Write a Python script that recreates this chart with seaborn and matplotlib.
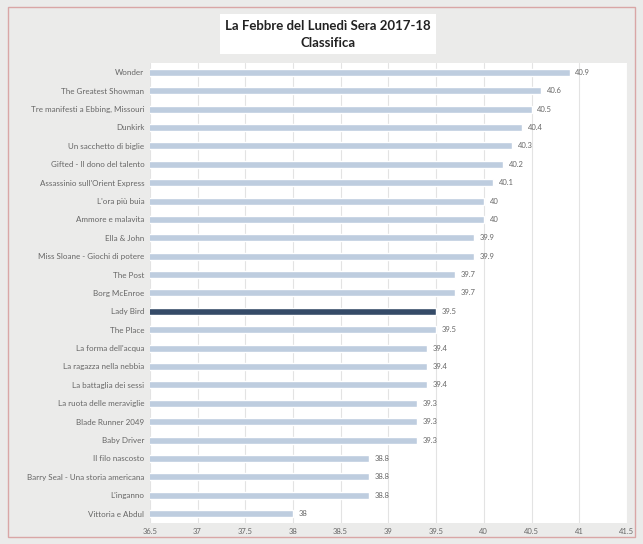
import pandas as pd
import matplotlib.pyplot as plt
import seaborn as sns
from matplotlib.patches import Rectangle

# --- Classifica data ---
films = [
    "Wonder", "The Greatest Showman", "Tre manifesti a Ebbing, Missouri", "Dunkirk",
    "Un sacchetto di biglie", "Gifted - Il dono del talento", "Assassinio sull'Orient Express",
    "L'ora più buia", "Ammore e malavita", "Ella & John", "Miss Sloane - Giochi di potere",
    "The Post", "Borg McEnroe", "Lady Bird", "The Place", "La forma dell'acqua",
    "La ragazza nella nebbia", "La battaglia dei sessi", "La ruota delle meraviglie",
    "Blade Runner 2049", "Baby Driver", "Il filo nascosto",
    "Barry Seal - Una storia americana", "L'inganno", "Vittoria e Abdul",
]
scores = [40.9, 40.6, 40.5, 40.4, 40.3, 40.2, 40.1, 40, 40, 39.9, 39.9, 39.7, 39.7,
          39.5, 39.5, 39.4, 39.4, 39.4, 39.3, 39.3, 39.3, 38.8, 38.8, 38.8, 38]
highlight = "Lady Bird"
x_ticks = [36.5, 37, 37.5, 38, 38.5, 39, 39.5, 40, 40.5, 41, 41.5]

df = pd.DataFrame({"Film": films, "Voto": scores})
df["Gruppo"] = ["hi" if f == highlight else "lo" for f in films]

sns.set_style("white")
plt.rcParams["font.family"] = ["Lato", "DejaVu Sans"]

fig = plt.figure(figsize=(6.43, 5.44), dpi=100)
fig.patch.set_facecolor("#ebebea")
ax = fig.add_axes([0.233, 0.039, 0.742, 0.845])
ax.set_facecolor("white")

sns.barplot(data=df, x="Voto", y="Film", hue="Gruppo", orient="h", dodge=False,
            palette={"lo": "#b9cce4", "hi": "#2c4a70"}, width=0.38, legend=False, ax=ax)

ax.set_xlim(36.5, 41.5)
ax.set_xticks(x_ticks)
ax.set_xticklabels([f"{t:g}" for t in x_ticks], fontsize=5.5, color="#666666")
ax.tick_params(axis="y", labelsize=5.8, labelcolor="#666666", length=0, pad=4)
ax.tick_params(axis="x", length=0, pad=4)
ax.grid(axis="x", color="#e3e3e3", linewidth=0.8)
ax.set_axisbelow(True)
for s in ax.spines.values():
    s.set_visible(False)
ax.set_xlabel("")
ax.set_ylabel("")

for i, v in enumerate(scores):
    ax.text(v + 0.06, i, f"{v:g}", va="center", ha="left", fontsize=5.5, color="#666666")

fig.text(0.51, 0.937, "La Febbre del Lunedì Sera 2017-18\nClassifica", ha="center", va="center",
         fontsize=9.5, fontweight="bold", color="#222222", linespacing=1.45,
         bbox=dict(facecolor="white", edgecolor="none", pad=4))

fig.patches.append(Rectangle((0.012, 0.012), 0.976, 0.976, transform=fig.transFigure,
                             fill=False, edgecolor="#d9a6a6", linewidth=1))

plt.savefig("out.png", dpi=100)
plt.close()
